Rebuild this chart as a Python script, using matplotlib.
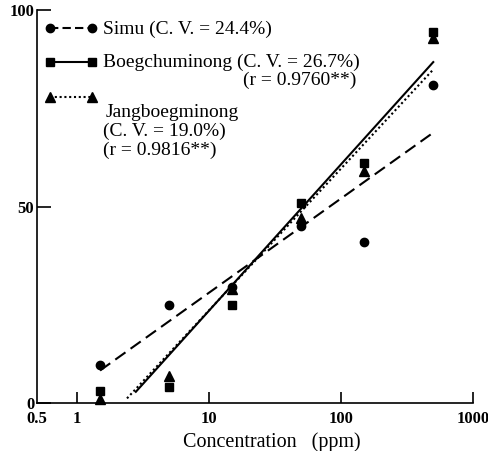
import numpy as np
import matplotlib.pyplot as plt

# 濃度 (ppm)
concentration = [1.5, 5, 15, 50, 150, 500]

# 各品種の値
simu = [9.7, 25, 29.5, 45, 41, 81]
boegchuminong = [3, 4, 25, 51, 61, 94.5]
jangboegminong = [1, 7, 29, 47, 59, 93]

# 回帰直線を引く濃度の範囲
simu_range = [1.5, 500]
boeg_range = [2.8, 500]
jang_range = [2.4, 500]

# 目盛り
x_ticks = [0.5, 1, 10, 100, 1000]
x_tick_labels = ["0.5", "1", "10", "100", "1000"]
y_ticks = [0, 50, 100]

# 凡例のテキスト
simu_label = "Simu (C. V. = 24.4%)"
boeg_label = "Boegchuminong (C. V. = 26.7%)"
boeg_r = "(r = 0.9760**)"
jang_label = ["Jangboegminong", "(C. V. = 19.0%)", "(r = 0.9816**)"]

plt.rcParams["font.family"] = ["Liberation Serif", "DejaVu Serif"]

fig = plt.figure(figsize=(4.89, 4.51), dpi=100)
ax = fig.add_axes([0.0757, 0.1064, 0.8916, 0.8714])

log_x = np.log10(concentration)


# 回帰直線 (対数濃度に対する一次式)
def fit_line(values, x_range):
    slope, intercept = np.polyfit(log_x, values, 1)
    xs = np.array(x_range)
    return xs, intercept + slope * np.log10(xs)


xs, ys = fit_line(simu, simu_range)
ax.plot(xs, ys, color="black", lw=1.5, linestyle=(0, (6, 3)))
xs, ys = fit_line(boegchuminong, boeg_range)
ax.plot(xs, ys, color="black", lw=1.5)
xs, ys = fit_line(jangboegminong, jang_range)
ax.plot(xs, ys, color="black", lw=1.5, linestyle=(0, (1, 1.3)))

# 測定値
ax.plot(concentration, simu, "o", color="black", ms=6, clip_on=False)
ax.plot(concentration, boegchuminong, "s", color="black", ms=6, clip_on=False)
ax.plot(concentration, jangboegminong, "^", color="black", ms=6.5, clip_on=False)

# 軸の設定
ax.set_xscale("log")
ax.set_xlim(0.5, 1000)
ax.set_ylim(0, 100)
ax.set_xticks(x_ticks)
ax.set_xticklabels(x_tick_labels, fontsize=12, fontweight="bold")
ax.minorticks_off()
ax.set_yticks(y_ticks)
ax.set_yticklabels([str(v) for v in y_ticks], fontsize=12, fontweight="bold")
ax.tick_params(axis="x", direction="in", length=8, width=1.2, pad=6)
ax.tick_params(axis="y", direction="in", length=10, width=1.2, pad=2)
ax.xaxis.get_major_ticks()[0].tick1line.set_visible(False)
ax.spines["top"].set_visible(False)
ax.spines["right"].set_visible(False)
ax.spines["left"].set_linewidth(1.2)
ax.spines["bottom"].set_linewidth(1.2)
ax.set_xlabel("Concentration   (ppm)", fontsize=14.5)
ax.xaxis.set_label_coords(0.539, -0.075)

# 凡例 (手書き)
hx = [0.030, 0.126]
tx = 0.151
fs = 14
ax.plot(hx, [0.954, 0.954], transform=ax.transAxes, color="black", lw=1.5,
        linestyle=(0, (4, 2)), marker="o", ms=6)
ax.text(tx, 0.952, simu_label, transform=ax.transAxes, fontsize=fs, va="center")
ax.plot(hx, [0.868, 0.868], transform=ax.transAxes, color="black", lw=1.5,
        marker="s", ms=6)
ax.text(tx, 0.866, boeg_label, transform=ax.transAxes, fontsize=fs, va="center")
ax.text(0.472, 0.821, boeg_r, transform=ax.transAxes, fontsize=fs, va="center")
ax.plot(hx, [0.779, 0.779], transform=ax.transAxes, color="black", lw=1.5,
        linestyle=(0, (1, 1.3)), marker="^", ms=6.5)
for i, line in enumerate(jang_label):
    ax.text(tx + (0.006 if i == 0 else 0), 0.740 - i * 0.049, line,
            transform=ax.transAxes, fontsize=fs, va="center")

fig.savefig("out.png", dpi=100)
